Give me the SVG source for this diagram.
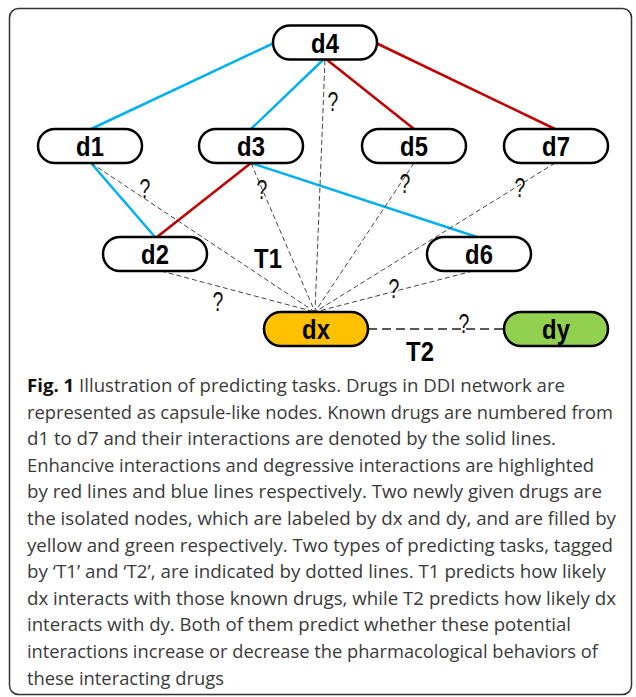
<svg xmlns="http://www.w3.org/2000/svg" width="636" height="697" viewBox="0 0 636 697">
<style>
.node rect{stroke:#000;stroke-width:2.5;fill:#fff}
.node text{font-family:"Liberation Sans",Arial,sans-serif;font-weight:bold;font-size:28px;text-anchor:middle;fill:#000}
.blue{stroke:#00b0f0;stroke-width:2.5;fill:none}
.red{stroke:#c00000;stroke-width:2.5;fill:none}
.dash{stroke:#444;stroke-width:1;stroke-dasharray:5,3;fill:none}
.dash2{stroke:#222;stroke-width:1.6;stroke-dasharray:9,5;fill:none}
.q{font-family:"Liberation Sans",Arial,sans-serif;font-size:27px;text-anchor:middle;fill:#111}
.t{font-family:"Liberation Sans",Arial,sans-serif;font-weight:bold;font-size:28px;text-anchor:middle;fill:#000}
.cap{font-family:"Open Sans","Liberation Sans",sans-serif;font-size:18.5px;fill:#3a3a3a}
.capb{font-weight:bold;fill:#111}
</style>
<rect x="9.5" y="8.5" width="622" height="686" rx="9" fill="#fff" stroke="#333" stroke-width="1.5"/>
<g id="connectors">
<line class="blue" x1="274" y1="43" x2="91" y2="129"/>
<line class="blue" x1="324" y1="59" x2="251" y2="129"/>
<line class="red" x1="326" y1="59" x2="414" y2="129"/>
<line class="red" x1="376" y1="43" x2="555" y2="129"/>
<line class="blue" x1="91" y1="163" x2="155" y2="237"/>
<line class="red" x1="251" y1="163" x2="157" y2="237"/>
<line class="blue" x1="251" y1="163" x2="477" y2="237"/>
<line class="dash" x1="325" y1="60" x2="315" y2="312"/>
<line class="dash" x1="91" y1="163" x2="315" y2="312"/>
<line class="dash" x1="251" y1="163" x2="315" y2="312"/>
<line class="dash" x1="414" y1="163" x2="315" y2="312"/>
<line class="dash" x1="555" y1="163" x2="315" y2="312"/>
<line class="dash" x1="161" y1="271" x2="315" y2="312"/>
<line class="dash" x1="473" y1="271" x2="315" y2="312"/>
<line class="dash2" x1="368" y1="329" x2="504" y2="329"/>
<text class="q" transform="translate(333,111) scale(0.72,1)">?</text>
<text class="q" transform="translate(145,198) scale(0.72,1)">?</text>
<text class="q" transform="translate(262,199) scale(0.72,1)">?</text>
<text class="q" transform="translate(405,193) scale(0.72,1)">?</text>
<text class="q" transform="translate(520,197) scale(0.72,1)">?</text>
<text class="q" transform="translate(218,311) scale(0.72,1)">?</text>
<text class="q" transform="translate(394,298) scale(0.72,1)">?</text>
<text class="q" transform="translate(464,333) scale(0.72,1)">?</text>
<text class="t" transform="translate(268,268) scale(0.85,1)">T1</text>
<text class="t" transform="translate(420,361) scale(0.85,1)">T2</text>
</g>
<g id="d4" class="node"><rect x="273" y="25.5" width="104" height="34" rx="17"/><text transform="translate(325,52.5) scale(0.85,1)">d4</text></g>
<g id="d1" class="node"><rect x="38" y="129" width="104" height="34" rx="17"/><text transform="translate(90,156) scale(0.85,1)">d1</text></g>
<g id="d3" class="node"><rect x="199" y="129" width="104" height="34" rx="17"/><text transform="translate(251,156) scale(0.85,1)">d3</text></g>
<g id="d5" class="node"><rect x="362" y="129" width="104" height="34" rx="17"/><text transform="translate(414,156) scale(0.85,1)">d5</text></g>
<g id="d7" class="node"><rect x="504" y="129" width="104" height="34" rx="17"/><text transform="translate(556,156) scale(0.85,1)">d7</text></g>
<g id="d2" class="node"><rect x="103" y="237" width="104" height="34" rx="17"/><text transform="translate(155,264) scale(0.85,1)">d2</text></g>
<g id="d6" class="node"><rect x="427" y="237" width="104" height="34" rx="17"/><text transform="translate(479,264) scale(0.85,1)">d6</text></g>
<g id="dx" class="node"><rect x="264" y="312" width="104" height="34" rx="17" style="fill:#ffc000"/><text transform="translate(316,339) scale(0.85,1)">dx</text></g>
<g id="dy" class="node"><rect x="504" y="312" width="104" height="34" rx="17" style="fill:#92d050"/><text transform="translate(556,339) scale(0.85,1)">dy</text></g>
<g id="caption" class="cap">
<text x="27" y="392" textLength="538" lengthAdjust="spacingAndGlyphs"><tspan class="capb">Fig. 1</tspan> Illustration of predicting tasks. Drugs in DDI network are</text>
<text x="27" y="418.6" textLength="586" lengthAdjust="spacingAndGlyphs">represented as capsule-like nodes. Known drugs are numbered from</text>
<text x="27" y="445.2" textLength="529" lengthAdjust="spacingAndGlyphs">d1 to d7 and their interactions are denoted by the solid lines.</text>
<text x="27" y="471.8" textLength="567" lengthAdjust="spacingAndGlyphs">Enhancive interactions and degressive interactions are highlighted</text>
<text x="27" y="498.4" textLength="575" lengthAdjust="spacingAndGlyphs">by red lines and blue lines respectively. Two newly given drugs are</text>
<text x="27" y="525" textLength="589" lengthAdjust="spacingAndGlyphs">the isolated nodes, which are labeled by dx and dy, and are filled by</text>
<text x="27" y="551.6" textLength="586" lengthAdjust="spacingAndGlyphs">yellow and green respectively. Two types of predicting tasks, tagged</text>
<text x="27" y="578.2" textLength="579" lengthAdjust="spacingAndGlyphs">by ‘T1’ and ‘T2’, are indicated by dotted lines. T1 predicts how likely</text>
<text x="27" y="604.8" textLength="589" lengthAdjust="spacingAndGlyphs">dx interacts with those known drugs, while T2 predicts how likely dx</text>
<text x="27" y="631.4" textLength="544" lengthAdjust="spacingAndGlyphs">interacts with dy. Both of them predict whether these potential</text>
<text x="27" y="658" textLength="571" lengthAdjust="spacingAndGlyphs">interactions increase or decrease the pharmacological behaviors of</text>
<text x="27" y="684.6" textLength="197" lengthAdjust="spacingAndGlyphs">these interacting drugs</text>
</g>
</svg>
